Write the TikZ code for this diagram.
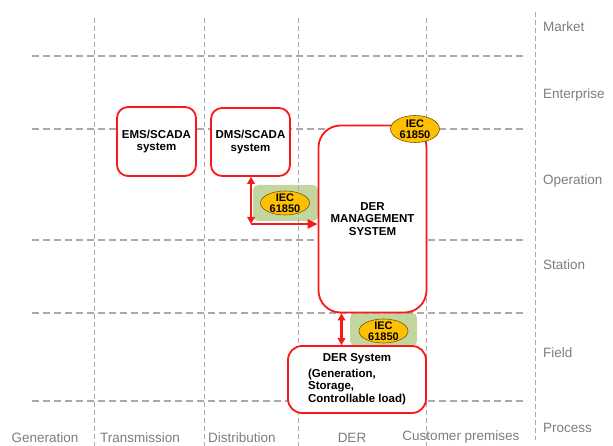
\documentclass[tikz,border=0pt]{standalone}
\usepackage{fontspec}
\setmainfont{Liberation Sans}
\usetikzlibrary{positioning,arrows.meta,calc,shapes.geometric}
\definecolor{boxred}{RGB}{250,25,25}
\definecolor{gridgray}{RGB}{170,170,170}
\definecolor{labgray}{RGB}{125,125,125}
\definecolor{iecgold}{RGB}{255,192,0}
\definecolor{iecedge}{RGB}{110,90,20}
\definecolor{linkgreen}{RGB}{196,214,160}
\tikzset{
  sysbox/.style = {rectangle, draw=boxred, line width=1.8pt, rounded corners=11pt,
                   fill=white, align=center,
                   font=\fontsize{11.5}{12.5}\selectfont\bfseries},
  linkbg/.style = {rectangle, fill=linkgreen, rounded corners=5pt, inner sep=0pt},
  iec/.style    = {ellipse, draw=iecedge, line width=0.6pt, fill=iecgold,
                   minimum width=49pt, minimum height=24pt, inner sep=0pt},
  ieclab/.style = {align=center, inner sep=0pt, font=\fontsize{11}{10.8}\selectfont\bfseries},
  hline/.style  = {gridgray, line width=1.2pt, dash pattern=on 7pt off 4pt},
  vline/.style  = {gridgray, line width=0.7pt, dash pattern=on 5pt off 3pt},
  layer/.style  = {anchor=west, text=labgray, inner sep=0pt, font=\fontsize{13.5}{15}\selectfont},
  zone/.style   = {text=labgray, inner sep=0pt, font=\fontsize{13.5}{15}\selectfont},
  dbl/.style    = {{Triangle[length=7pt,width=7.5pt]}-{Triangle[length=7pt,width=7.5pt]}, boxred, line width=2.2pt},
  arr/.style    = {-{Triangle[length=10pt,width=9pt]}, boxred, line width=2.2pt}
}
\begin{document}
\begin{tikzpicture}[x=1pt,y=-1pt]
    \useasboundingbox (0,0) rectangle (613,446);
    % green link areas sit under the grid
    \node[linkbg,minimum width=65pt,minimum height=36pt] (lnkA) at (285.5,203) {};
    \node[linkbg,minimum width=67pt,minimum height=33pt] (lnkB) at (383.5,329.5) {};
    % grid
    \foreach \y in {56,129,240,313,401} \draw[hline] (32,\y) -- (527,\y);
    \foreach \x in {94,204,298,426} \draw[vline] (\x,18) -- (\x,446);
    \draw[vline] (535,12) -- (535,440);
    % zones and layers
    \node[layer] (market) at (543,27) {Market};
    \node[layer] (enterp) at (543,95) {Enterprise};
    \node[layer] (operat) at (543,181) {Operation};
    \node[layer] (station) at (543,265) {Station};
    \node[layer] (field) at (543,353) {Field};
    \node[layer] (process) at (543,428) {Process};
    \node[zone] (gen) at (45,437.5) {Generation};
    \node[zone] (trans) at (140,437.5) {Transmission};
    \node[zone] (distr) at (242,437.5) {Distribution};
    \node[zone] (der) at (352,437.5) {DER};
    \node[zone] (cust) at (461,437.5) {Customer premises};
    % systems
    \node[sysbox,minimum width=79pt,minimum height=69pt] (ems) at (156.5,141.5) {EMS/SCADA\\system};
    \node[sysbox,minimum width=79pt,minimum height=68pt] (dms) at (250.5,142) {DMS/SCADA\\system};
    \node[sysbox,rounded corners=22pt,minimum width=108pt,minimum height=187pt] (derms) at (372.5,219)
        {DER\\MANAGEMENT\\SYSTEM};
    \node[sysbox,rounded corners=14pt,minimum width=138pt,minimum height=67pt] (dersys) at (357,379.5)
        {\begin{tabular}{@{}l@{}}\multicolumn{1}{@{}c@{}}{DER System}\\[3pt]
         (Generation,\\Storage,\\Controllable load)\end{tabular}};
    % IEC 61850 links
    \node[iec] (iecA) at (285,203) {};
    \node[ieclab] (iecAt) at (iecA) {IEC\\61850};
    \node[iec] (iecB) at (383.5,331) {};
    \node[ieclab] (iecBt) at (iecB) {IEC\\61850};
    \node[iec,minimum height=27pt] (iecC) at (415,129) {};
    \node[ieclab] (iecCt) at (iecC) {IEC\\61850};
    % connectors
    \coordinate (bend) at (251,224);
    \draw[dbl] (dms.south -| bend) -- (bend);
    \draw[arr] (bend) -- (bend -| derms.west);
    \draw[dbl] ([xshift=-31pt]derms.south) -- ([xshift=-31pt]derms.south |- dersys.north);
\end{tikzpicture}
\end{document}
